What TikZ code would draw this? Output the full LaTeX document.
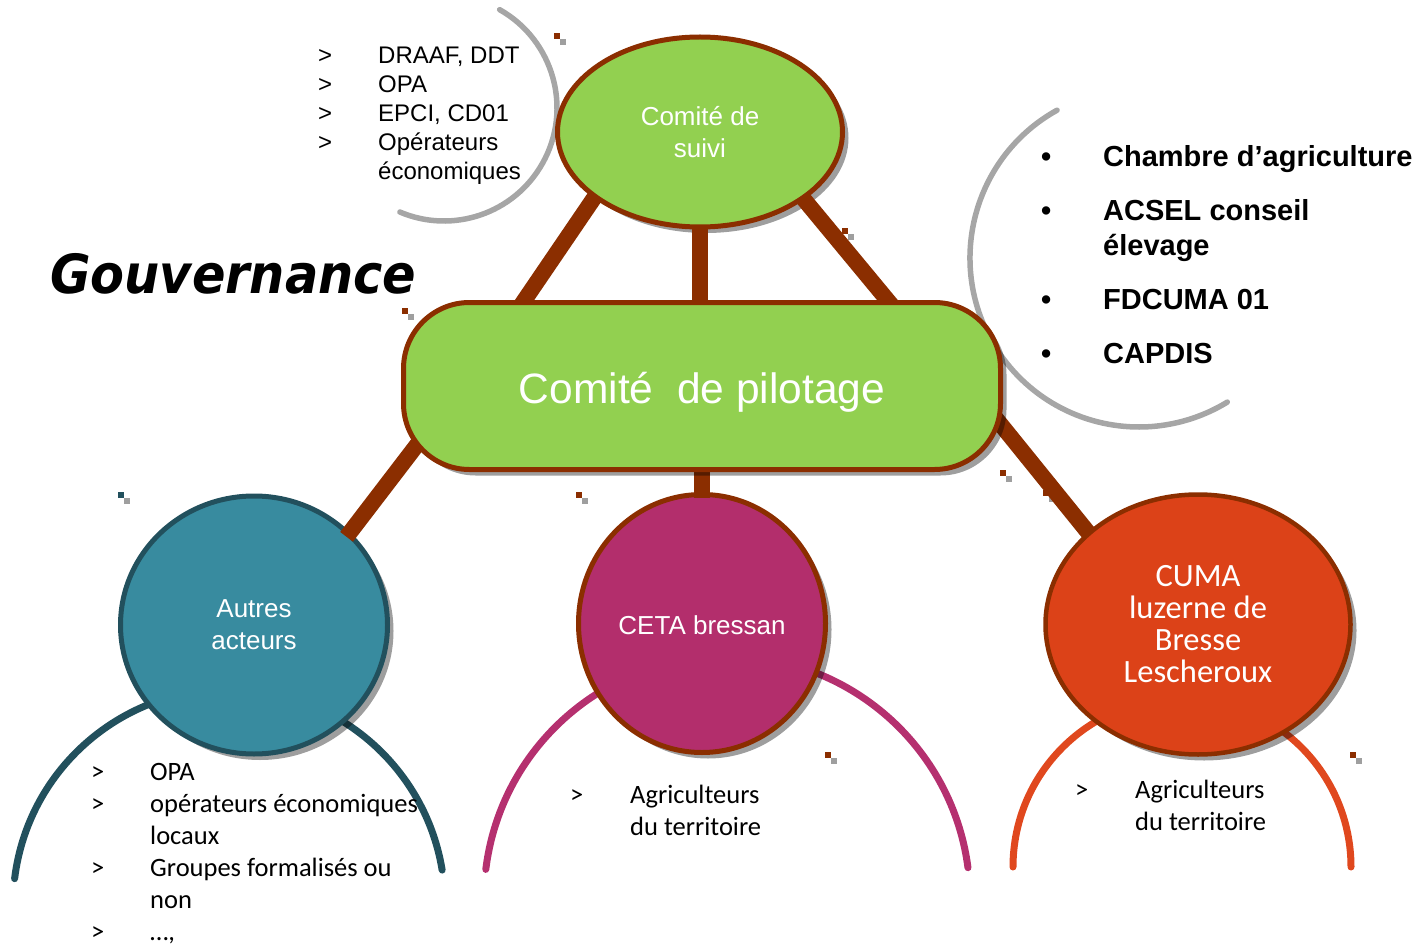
\documentclass[tikz,border=0pt]{standalone}
\usepackage{fontspec}
\setmainfont{Liberation Sans}
\newfontfamily\calib{Carlito}
\newfontfamily\gouvfont{DejaVu Sans Bold Oblique}
\usetikzlibrary{shapes.geometric,shadows}
\definecolor{cgreen}{HTML}{92D050}
\definecolor{cbrown}{HTML}{8B2E00}
\definecolor{cteal}{HTML}{388B9F}
\definecolor{ctealdark}{HTML}{22505D}
\definecolor{cmag}{HTML}{B32E6C}
\definecolor{cmagarc}{HTML}{B5306F}
\definecolor{corange}{HTML}{DC4218}
\definecolor{corangearc}{HTML}{E0481E}
\definecolor{cgray}{HTML}{A6A6A6}
\definecolor{csq}{HTML}{9F9F9F}
\begin{document}
\begin{tikzpicture}[x=1pt,y=-1pt,
  conn/.style={line width=16pt, draw=cbrown},
  grayarc/.style={line width=5.5pt, draw=cgray, line cap=round},
  bigarc/.style={line width=7pt, line cap=round},
  shad/.style={drop shadow={shadow xshift=6pt, shadow yshift=-6pt, opacity=0.38, fill=black}},
  blob/.style={ellipse, inner sep=0pt, text=white, align=center, line width=5pt, shad},
  listtext/.style={anchor=north west, inner sep=0pt}]
\useasboundingbox (0,0) rectangle (1422,944);

% decorative gray arcs
\draw[grayarc] (444,108) ++(60.5:113pt) arc[start angle=60.5, end angle=-113, radius=113pt];
\draw[grayarc] (1139,258) ++(119:169pt) arc[start angle=119, end angle=301.5, radius=169pt];

% coloured arcs below the circles
\draw[bigarc, draw=ctealdark] (229,905) ++(173:216pt) arc[start angle=173, end angle=9.3, radius=216pt];
\draw[bigarc, draw=cmagarc] (727,899) ++(173:243pt) arc[start angle=173, end angle=7.4, radius=243pt];
\draw[bigarc, draw=corangearc] (1182,867) ++(180:169pt) arc[start angle=180, end angle=0, radius=169pt];

% small decorative squares
\foreach \x/\y in {554/33, 842/228, 402/308, 576/492, 825/752, 1000/470, 1043/490, 1350/752}{
  \fill[cbrown] (\x,\y) rectangle ++(6,6);
  \fill[csq] (\x+6,\y+6) rectangle ++(6,6);
}
\fill[ctealdark] (118,492) rectangle ++(6,6);
\fill[csq] (124,498) rectangle ++(6,6);

% nodes
\node[blob, fill=cgreen, draw=cbrown, minimum width=285pt, minimum height=190pt,
      font=\fontsize{26}{32}\selectfont] (suivi) at (700,132)
      {\raisebox{-3pt}[\height][\depth]{\begin{tabular}{@{}c@{}}Comité de\\suivi\end{tabular}}};
\node[blob, fill=cteal, draw=ctealdark, minimum width=267pt, minimum height=258pt,
      font=\fontsize{26}{32}\selectfont] (autres) at (254,625) {Autres\\acteurs};
\node[blob, fill=cmag, draw=cbrown, minimum width=247pt, minimum height=258pt,
      font=\fontsize{26}{32}\selectfont] (ceta) at (702,623.5)
      {\raisebox{-2pt}[\height][\depth]{CETA bressan}};
\node[blob, fill=corange, draw=cbrown, line width=4.5pt, minimum width=305pt, minimum height=260pt,
      font=\calib\fontsize{32.5}{32}\selectfont] (cuma) at (1198,624.5) {CUMA\\luzerne de\\Bresse\\Lescheroux};

% connectors
\coordinate (p1) at (513.7,316);
\coordinate (p2) at (700,316);
\coordinate (p3) at (900.6,316);
\coordinate (q1) at (436,420);
\coordinate (q2) at (702,460);
\coordinate (q3) at (981,400);
\draw[conn, shorten <=-4pt] (suivi.212) -- (p1);
\draw[conn, shorten <=-4pt] (suivi.south) -- (p2);
\draw[conn, shorten <=-4pt] (suivi.327) -- (p3);
\draw[conn, shorten >=-6pt] (q1) -- (autres.44);
\draw[conn, shorten >=-5.5pt] (q2) -- (ceta.north);
\draw[conn, shorten >=-2pt] (q3) -- (cuma.140);

\node[draw=cbrown, line width=5pt, fill=cgreen, rounded corners=66pt, minimum width=597pt,
      minimum height=167pt, inner sep=0pt, shad, text=white,
      font=\fontsize{42.5}{50}\selectfont] (pilot) at (702,386)
      {\raisebox{-6pt}[\height][\depth]{Comité~~de pilotage}};

% title
\node[anchor=base west, inner sep=0pt, font=\gouvfont\fontsize{54}{60}\selectfont] (gov) at (50,293)
  {\scalebox{0.915}[1]{Gouvernance}};

% lists
\node[listtext, font=\fontsize{24}{29}\selectfont] (listsuivi) at (318,43.2)
  {\begin{tabular}{@{}p{60pt}@{}l@{}}
  > & DRAAF, DDT\\
  > & OPA\\
  > & EPCI, CD01\\
  > & Opérateurs\\
    & économiques
  \end{tabular}};
\node[listtext, font=\bfseries\fontsize{29}{35}\selectfont] (listpilot) at (1041,142)
  {\begin{tabular}{@{}p{62pt}@{}l@{}}
  \textbullet & Chambre d’agriculture\\[19pt]
  \textbullet & ACSEL conseil\\
              & élevage\\[19pt]
  \textbullet & FDCUMA 01\\[19pt]
  \textbullet & CAPDIS
  \end{tabular}};
\node[listtext, font=\calib\fontsize{26.5}{32}\selectfont] (listautres) at (91,757.6)
  {\begin{tabular}{@{}p{59pt}@{}l@{}}
  > & OPA\\
  > & opérateurs économiques\\
    & locaux\\
  > & Groupes formalisés ou\\
    & non\\
  > & …,
  \end{tabular}};
\node[listtext, font=\calib\fontsize{26.5}{32}\selectfont] (listceta) at (570,780.6)
  {\begin{tabular}{@{}p{60pt}@{}l@{}}
  > & Agriculteurs\\
    & du territoire
  \end{tabular}};
\node[listtext, font=\calib\fontsize{26.5}{32}\selectfont] (listcuma) at (1075,775.6)
  {\begin{tabular}{@{}p{60pt}@{}l@{}}
  > & Agriculteurs\\
    & du territoire
  \end{tabular}};
\end{tikzpicture}
\end{document}
